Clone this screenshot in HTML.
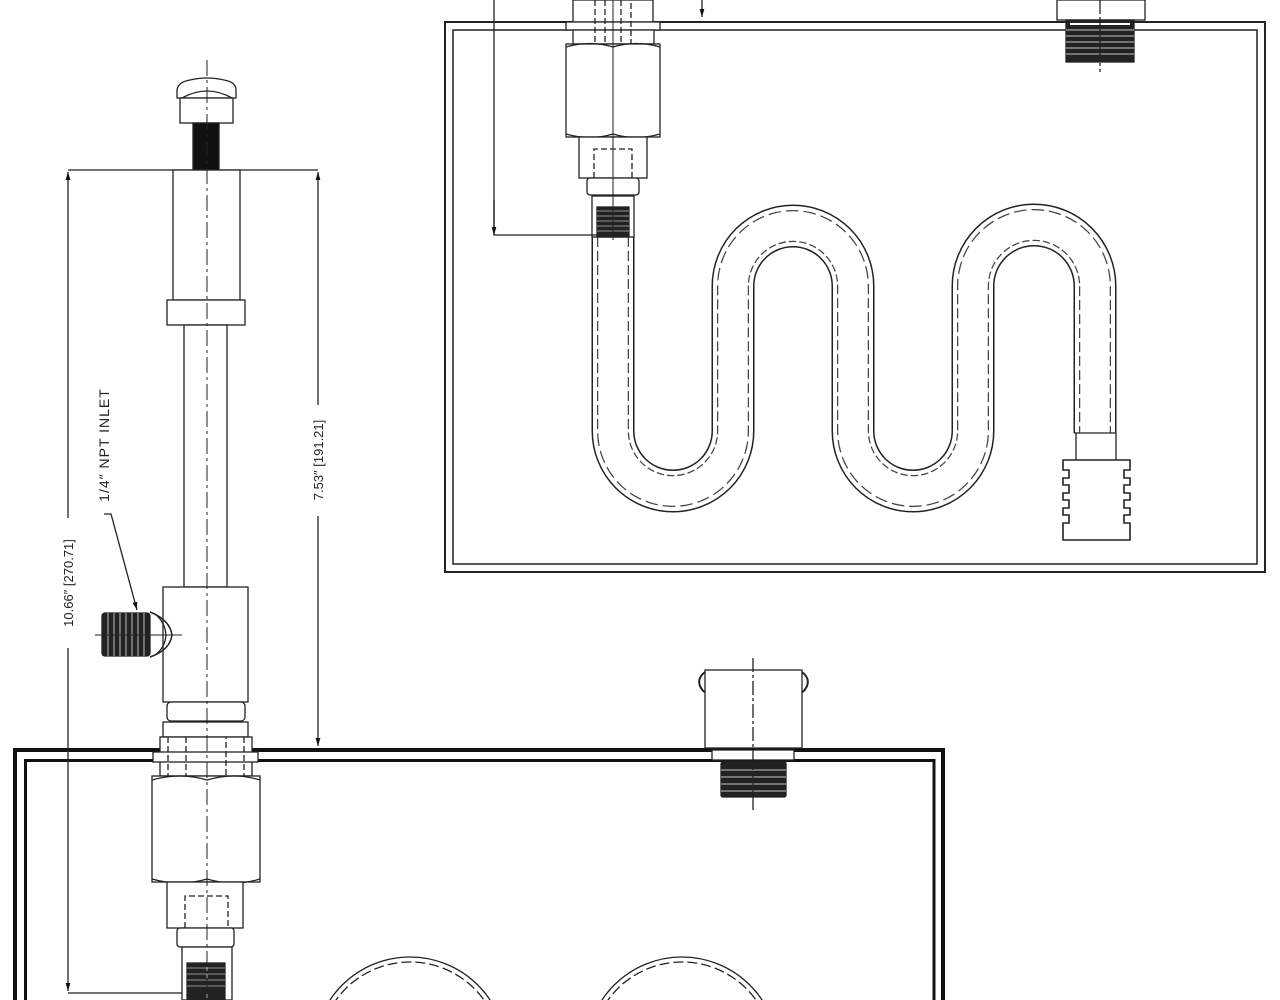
<!DOCTYPE html>
<html><head><meta charset="utf-8"><style>
html,body{margin:0;padding:0;background:#fff;width:1280px;height:1000px;overflow:hidden}
svg{display:block}
text{font-family:"Liberation Sans",sans-serif;fill:#222}
</style></head><body>
<svg width="1280" height="1000" viewBox="0 0 1280 1000" xmlns="http://www.w3.org/2000/svg">
<defs>
<marker id="ar" viewBox="0 0 10 10" refX="10" refY="5" markerWidth="8" markerHeight="10" orient="auto-start-reverse" markerUnits="userSpaceOnUse"><path d="M0,2 L10,5 L0,8 Z" fill="#111"/></marker>
</defs>
<g fill="none" stroke="#222" stroke-width="1.3">

<!-- ===== TOP RIGHT VIEW ===== -->
<rect x="445" y="22" width="820" height="550" stroke-width="2"/>
<rect x="453" y="30" width="804" height="534" stroke-width="1.5"/>
<!-- hose -->
<path d="M613,237 V431 A60,60 0 0 0 733,431 V286 A60,60 0 0 1 853,286 V431 A60,60 0 0 0 973,431 V286 A60,60 0 0 1 1095,286 V433" stroke="#222" stroke-width="43"/>
<path d="M613,237 V431 A60,60 0 0 0 733,431 V286 A60,60 0 0 1 853,286 V431 A60,60 0 0 0 973,431 V286 A60,60 0 0 1 1095,286 V433" stroke="#fff" stroke-width="40"/>
<path d="M613,237 V431 A60,60 0 0 0 733,431 V286 A60,60 0 0 1 853,286 V431 A60,60 0 0 0 973,431 V286 A60,60 0 0 1 1095,286 V433" stroke="#444" stroke-width="32" stroke-dasharray="10,4"/>
<path d="M613,230 V431 A60,60 0 0 0 733,431 V286 A60,60 0 0 1 853,286 V431 A60,60 0 0 0 973,431 V286 A60,60 0 0 1 1095,286 V434" stroke="#fff" stroke-width="29.5"/>
<line x1="1074" y1="433" x2="1116" y2="433"/>
<line x1="1076" y1="433" x2="1076" y2="460"/><line x1="1116" y1="433" x2="1116" y2="460"/>
<path d="M1063,460 H1130 V470 H1124 V478 H1130 V485 H1124 V493 H1130 V500 H1124 V508 H1130 V515 H1124 V523 H1130 V540 H1063 V523 H1069 V515 H1063 V508 H1069 V500 H1063 V493 H1069 V485 H1063 V478 H1069 V470 H1063 Z" stroke-width="1.6"/>
<!-- top fitting -->
<rect x="573" y="0" width="80" height="22" fill="#fff"/>
<rect x="566" y="22" width="94" height="8" fill="#fff"/>
<rect x="573" y="30" width="81" height="14" fill="#fff"/>
<path d="M595,0 V54 H631 V0 M605,0 V44 M621,0 V44" stroke-dasharray="6,3"/>
<rect x="566" y="44" width="94" height="93" fill="#fff"/>
<path d="M566,47 Q590,40 613,47 Q636,40 660,47 M566,134 Q590,141 613,134 Q636,141 660,134"/>
<rect x="579" y="137" width="68" height="41" fill="#fff"/>
<path d="M594,178 V149 H632 V178" stroke-dasharray="6,3"/>
<rect x="587" y="178" width="52" height="17" rx="3" fill="#fff"/>
<rect x="592" y="196" width="42" height="41" fill="#fff"/>
<rect x="597" y="207" width="32" height="30" fill="#222"/>
<g stroke="#fff" stroke-width="0.6"><line x1="597" y1="211" x2="629" y2="211"/><line x1="597" y1="216" x2="629" y2="216"/><line x1="597" y1="221" x2="629" y2="221"/><line x1="597" y1="226" x2="629" y2="226"/><line x1="597" y1="231" x2="629" y2="231"/><line x1="613" y1="207" x2="613" y2="237"/></g>
<line x1="613" y1="0" x2="613" y2="240" stroke-width="1"/>
<!-- dims -->
<path d="M494,0 V235 H598"/>
<path d="M494,200 V235" marker-end="url(#ar)"/>
<path d="M702,0 V17" marker-end="url(#ar)"/>
<!-- right fitting top -->
<rect x="1057" y="0" width="88" height="20" fill="#fff"/>
<rect x="1066" y="20" width="68" height="42" fill="#222"/>
<g stroke="#fff" stroke-width="0.7"><line x1="1066" y1="30" x2="1134" y2="30"/><line x1="1066" y1="36" x2="1134" y2="36"/><line x1="1066" y1="42" x2="1134" y2="42"/><line x1="1066" y1="48" x2="1134" y2="48"/><line x1="1066" y1="54" x2="1134" y2="54"/><line x1="1070" y1="24" x2="1130" y2="24" stroke-width="2"/></g>
<line x1="1100" y1="0" x2="1100" y2="72" stroke-dasharray="14,3,3,3"/>

<!-- ===== BOTTOM LEFT VIEW ===== -->
<path d="M15,1000 V750 H943 V1000" stroke="#111" stroke-width="4"/>
<path d="M25.5,1000 V760.5 H934 V1000" stroke="#111" stroke-width="3"/>
<!-- left dims -->
<line x1="68" y1="170" x2="318" y2="170"/>
<path d="M68,518 V172" marker-end="url(#ar)"/>
<path d="M68,648 V991" marker-end="url(#ar)"/>
<line x1="68" y1="993" x2="188" y2="993"/>
<path d="M318,405 V172" marker-end="url(#ar)"/>
<path d="M318,516 V746" marker-end="url(#ar)"/>
<path d="M104,514 H111 L137,610" marker-end="url(#ar)"/>
<!-- knob -->
<path d="M177,98 V90 Q178,82 190,80 Q207,76 224,80 Q236,82 236,90 V98 Z" fill="#fff"/>
<path d="M182,98 Q207,84 232,98"/>
<rect x="180" y="98" width="53" height="25" fill="#fff"/>
<rect x="193" y="123" width="26" height="47" fill="#111"/>
<rect x="173" y="170" width="67" height="130" fill="#fff"/>
<rect x="167" y="300" width="78" height="25" fill="#fff"/>
<rect x="184" y="325" width="43" height="262" fill="#fff"/>
<rect x="163" y="587" width="85" height="115" fill="#fff"/>
<!-- side inlet -->
<path d="M150,612 Q170,620 172,635 Q170,650 150,657" stroke-width="1.5"/>
<path d="M155,614 Q165,622 166,635 Q165,648 155,655"/>
<rect x="102" y="613" width="48" height="43" rx="3" fill="#222"/>
<g stroke="#fff" stroke-width="0.7"><line x1="108" y1="613" x2="108" y2="656"/><line x1="114" y1="613" x2="114" y2="656"/><line x1="120" y1="613" x2="120" y2="656"/><line x1="126" y1="613" x2="126" y2="656"/><line x1="132" y1="613" x2="132" y2="656"/><line x1="138" y1="613" x2="138" y2="656"/><line x1="144" y1="613" x2="144" y2="656"/></g>
<line x1="95" y1="635" x2="182" y2="635" stroke-width="1"/>
<!-- lower fittings -->
<rect x="167" y="702" width="78" height="19" rx="4" fill="#fff"/>
<rect x="163" y="722" width="85" height="15" fill="#fff"/>
<rect x="160" y="737" width="92" height="39" fill="#fff"/>
<rect x="153" y="752" width="105" height="10" fill="#fff"/>
<path d="M186,737 V790 H226 V737 M168,737 V776 M244,737 V776" stroke-dasharray="6,3"/>
<rect x="152" y="776" width="108" height="106" fill="#fff"/>
<path d="M152,780 Q180,772 207,780 Q234,772 260,780 M152,879 Q180,887 207,879 Q234,887 260,879"/>
<rect x="167" y="882" width="76" height="46" fill="#fff"/>
<path d="M185,928 V896 H228 V928" stroke-dasharray="6,3"/>
<rect x="177" y="928" width="57" height="19" rx="3" fill="#fff"/>
<rect x="182" y="947" width="50" height="53" fill="#fff"/>
<rect x="187" y="963" width="38" height="37" fill="#222"/>
<g stroke="#fff" stroke-width="0.6"><line x1="187" y1="968" x2="225" y2="968"/><line x1="187" y1="974" x2="225" y2="974"/><line x1="187" y1="980" x2="225" y2="980"/><line x1="187" y1="986" x2="225" y2="986"/><line x1="207" y1="963" x2="207" y2="1000"/></g>
<line x1="207" y1="60" x2="207" y2="1000" stroke-width="1" stroke-dasharray="16,4,3,4"/>
<!-- bottom right fitting -->
<rect x="705" y="670" width="97" height="78" fill="#fff"/>
<path d="M705,672 Q697,678 700,686 Q703,692 705,692 M802,672 Q810,678 807,686 Q804,692 802,692" stroke-width="2"/>
<rect x="712" y="750" width="82" height="10" fill="#fff"/>
<rect x="721" y="762" width="65" height="35" rx="2" fill="#222"/>
<g stroke="#fff" stroke-width="0.7"><line x1="721" y1="770" x2="786" y2="770"/><line x1="721" y1="777" x2="786" y2="777"/><line x1="721" y1="784" x2="786" y2="784"/><line x1="721" y1="791" x2="786" y2="791"/></g>
<line x1="753" y1="658" x2="753" y2="810" stroke-dasharray="14,3,3,3"/>
<!-- bottom hose arcs -->
<circle cx="410" cy="1053" r="96"/>
<circle cx="682" cy="1053" r="96"/>
<circle cx="410" cy="1053" r="91" stroke-dasharray="10,4"/>
<circle cx="682" cy="1053" r="91" stroke-dasharray="10,4"/>
</g>
<!-- labels -->
<text transform="translate(109,445) rotate(-90)" text-anchor="middle" font-size="14" letter-spacing="1">1/4″ NPT INLET</text>
<text transform="translate(323,460) rotate(-90)" text-anchor="middle" font-size="13">7.53″ [191.21]</text>
<text transform="translate(73,583) rotate(-90)" text-anchor="middle" font-size="13">10.66″ [270.71]</text>
</svg>
</body></html>
